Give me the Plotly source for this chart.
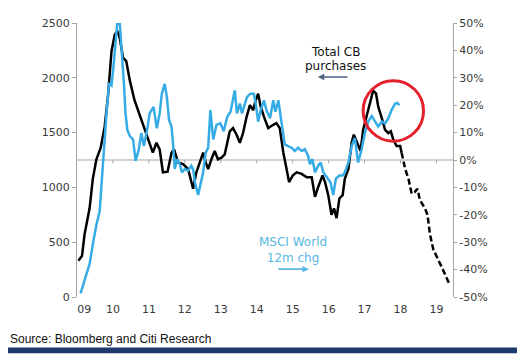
import plotly.graph_objects as go

# ---- data (decimal years) ----
cb_x = [2009.04, 2009.14, 2009.21, 2009.35, 2009.44, 2009.54, 2009.66, 2009.77, 2009.86, 2009.96,
        2010.05, 2010.12, 2010.19, 2010.28, 2010.37, 2010.47, 2010.60, 2010.79, 2010.97, 2011.11,
        2011.21, 2011.30, 2011.39, 2011.52, 2011.63, 2011.70, 2011.81, 2011.95, 2012.09, 2012.18,
        2012.23, 2012.32, 2012.42, 2012.51, 2012.58, 2012.65, 2012.74, 2012.83, 2012.92, 2013.02,
        2013.11, 2013.18, 2013.25, 2013.34, 2013.44, 2013.53, 2013.62, 2013.72, 2013.81, 2013.90,
        2013.97, 2014.04, 2014.11, 2014.20, 2014.32, 2014.46, 2014.55, 2014.64, 2014.74, 2014.83,
        2014.90, 2015.00, 2015.11, 2015.25, 2015.39, 2015.53, 2015.62, 2015.71, 2015.83, 2015.90,
        2015.99, 2016.08, 2016.15, 2016.22, 2016.30, 2016.39, 2016.45, 2016.55, 2016.64, 2016.70,
        2016.80, 2016.89, 2016.96, 2017.06, 2017.15, 2017.24, 2017.32, 2017.38, 2017.48, 2017.57,
        2017.66, 2017.73, 2017.80, 2017.89, 2017.99, 2018.03]
cb_values = [331, 376, 571, 809, 1078, 1257, 1362, 1556, 1825, 2243,
             2392, 2428, 2362, 2183, 2153, 1974, 1795, 1616, 1436, 1317,
             1407, 1347, 1138, 1144, 1317, 1347, 1228, 1212, 1168, 1048,
             988, 1138, 1228, 1317, 1228, 1168, 1257, 1332, 1257, 1272,
             1302, 1407, 1512, 1541, 1481, 1407, 1496, 1646, 1750, 1705,
             1795, 1855, 1736, 1646, 1541, 1571, 1586, 1541, 1317, 1168,
             1048, 1108, 1138, 1123, 1093, 1093, 914, 1004, 1108, 1048,
             929, 750, 809, 720, 899, 929, 1078, 1168, 1407, 1481,
             1407, 1332, 1526, 1646, 1765, 1884, 1855, 1736, 1631, 1526,
             1496, 1512, 1436, 1377, 1377, 1317]

cb_fcst_x = [2018.03, 2018.13, 2018.22, 2018.31, 2018.40, 2018.47, 2018.54, 2018.68, 2018.75,
             2018.82, 2018.91, 2019.05, 2019.19, 2019.35]
cb_fcst_values = [1317, 1168, 1078, 944, 959, 988, 884, 809, 750,
                  571, 436, 331, 242, 123]

msci_x = [2009.10, 2009.21, 2009.35, 2009.44, 2009.54, 2009.63, 2009.69, 2009.75, 2009.82, 2009.89,
          2009.96, 2010.02, 2010.08, 2010.12, 2010.19, 2010.23, 2010.30, 2010.35, 2010.40, 2010.47,
          2010.56, 2010.63, 2010.72, 2010.79, 2010.86, 2010.95, 2011.02, 2011.13, 2011.22, 2011.30,
          2011.36, 2011.44, 2011.50, 2011.56, 2011.63, 2011.67, 2011.72, 2011.78, 2011.86, 2011.92,
          2012.00, 2012.09, 2012.18, 2012.23, 2012.28, 2012.37, 2012.46, 2012.51, 2012.58, 2012.65,
          2012.71, 2012.79, 2012.88, 2012.99, 2013.08, 2013.18, 2013.27, 2013.33, 2013.39, 2013.45,
          2013.53, 2013.59, 2013.67, 2013.73, 2013.83, 2013.92, 2013.97, 2014.04, 2014.11, 2014.20,
          2014.27, 2014.37, 2014.46, 2014.52, 2014.60, 2014.69, 2014.78, 2014.87, 2014.97, 2015.06,
          2015.15, 2015.25, 2015.34, 2015.43, 2015.48, 2015.55, 2015.62, 2015.71, 2015.78, 2015.85,
          2015.94, 2016.05, 2016.13, 2016.20, 2016.30, 2016.39, 2016.45, 2016.55, 2016.64, 2016.73,
          2016.82, 2016.92, 2017.01, 2017.10, 2017.20, 2017.29, 2017.38, 2017.48, 2017.57, 2017.66,
          2017.75, 2017.85, 2017.91, 2017.97]
msci_pct = [-48.7, -43.9, -37.9, -30.8, -23.6, -18.8, -6.9, 5.1, 17.0, 27.8,
            27.2, 35.0, 45.7, 49.9, 49.9, 43.3, 29.0, 17.0, 11.0, 8.7,
            7.5, -0.3, 3.9, 9.9, 5.1, 11.0, 17.0, 19.4, 11.6, 17.0,
            24.2, 27.8, 23.0, 14.6, 12.2, 6.3, -3.3, 0.3, -1.5, -4.5,
            -3.3, -3.9, -2.1, -3.3, -8.1, -12.8, -8.1, -4.5, 2.7, 4.5,
            18.2, 7.5, 12.8, 13.4, 10.5, 15.8, 17.6, 21.8, 25.4, 17.0,
            20.6, 17.0, 20.0, 23.0, 24.2, 24.2, 20.6, 14.0, 18.2, 21.8,
            18.2, 15.2, 21.8, 17.6, 21.8, 13.4, 5.7, 5.1, 4.5, 3.3,
            4.5, 3.3, 3.9, 1.5, -1.5, 0.3, -4.5, -2.1, -0.9, -4.5,
            -6.3, -8.1, -12.8, -6.9, -5.7, -5.7, -4.5, -0.9, 5.1, 8.0,
            -0.9, 3.9, 9.9, 14.0, 16.0, 14.0, 12.2, 14.0, 13.4, 15.2,
            18.2, 20.6, 20.8, 20.0]

years = list(range(2009, 2020))
year_labels = ["09", "10", "11", "12", "13", "14", "15", "16", "17", "18", "19"]
left_ticks = [0, 500, 1000, 1500, 2000, 2500]
right_ticks = [-50, -40, -30, -20, -10, 0, 10, 20, 30, 40, 50]

BLUE = "#36ace6"
GREY = "#a6a6a6"
TXT = "#3a3a3a"
TICKFONT = dict(family="DejaVu Sans", size=11, color=TXT)
ANNFONT = dict(family="DejaVu Sans", size=12, color="#111111")
BLUEFONT = dict(family="DejaVu Sans", size=12, color="#5ab6e2")

fig = go.Figure()
fig.add_trace(go.Scatter(x=msci_x, y=msci_pct, yaxis="y2", mode="lines",
                         line=dict(color=BLUE, width=2.5), cliponaxis=False, showlegend=False))
fig.add_trace(go.Scatter(x=cb_x, y=cb_values, mode="lines",
                         line=dict(color="#000000", width=2.5), cliponaxis=False, showlegend=False))
fig.add_trace(go.Scatter(x=cb_fcst_x, y=cb_fcst_values, mode="lines",
                         line=dict(color="#000000", width=2.5, dash="6px,3px"), showlegend=False))

shapes = []
# zero line (0% on right axis == 1250 on left axis)
shapes.append(dict(type="line", xref="paper", x0=0, x1=1, yref="y2", y0=0, y1=0,
                   line=dict(color=GREY, width=1.2), layer="below"))
for yr in years[1:]:
    shapes.append(dict(type="line", xref="x", x0=yr, x1=yr, yref="y2", y0=0, y1=-1.2,
                       line=dict(color=GREY, width=1), layer="below"))
# red highlight circle
shapes.append(dict(type="circle", xref="x", yref="y", x0=2016.96, x1=2018.64, y0=1422, y1=1974,
                   line=dict(color="#e3202b", width=3)))
# bottom rule
shapes.append(dict(type="rect", xref="paper", yref="paper", x0=-0.21, x1=1.1755,
                   y0=-0.205, y1=-0.184, fillcolor="#1f3a6e", line=dict(width=0)))

annotations = [
    dict(x=2016.18, y=2240, xref="x", yref="y", text="Total CB", showarrow=False, font=ANNFONT),
    dict(x=2016.18, y=2108, xref="x", yref="y", text="purchases", showarrow=False, font=ANNFONT),
    dict(x=2015.70, y=2007, xref="x", yref="y", text="", showarrow=True, ax=31, ay=0,
         arrowhead=2, arrowsize=0.8, arrowwidth=1.6, arrowcolor="#4a6584"),
    dict(x=2015.0, y=433, xref="x", yref="y", text="MSCI World<br>12m chg", showarrow=False,
         font=BLUEFONT),
    dict(x=2015.45, y=254, xref="x", yref="y", text="", showarrow=True, ax=-32, ay=0,
         arrowhead=2, arrowsize=0.8, arrowwidth=1.6, arrowcolor="#5ab6e2"),
    dict(x=-0.1835, y=-0.152, xref="paper", yref="paper", xanchor="left", yanchor="middle",
         text="Source: Bloomberg and Citi Research", showarrow=False,
         font=dict(family="Liberation Sans, Arial", size=12, color="#111111")),
]

label_pos = [max(yr, 2009.2) for yr in years]

# the page body has an 8px default margin, so the figure is 8px smaller and margins shifted
fig.update_layout(
    width=517, height=353,
    margin=dict(l=69, r=72, t=9, b=64),
    paper_bgcolor="white", plot_bgcolor="white",
    xaxis=dict(range=[2009, 2019.46], tickvals=label_pos, ticktext=year_labels,
               showgrid=False, zeroline=False, showline=False, ticks="",
               tickfont=TICKFONT, ticklabelstandoff=4),
    yaxis=dict(range=[0, 2500], tickvals=left_ticks, showgrid=False, zeroline=False,
               showline=True, linecolor=GREY, linewidth=1, ticks="outside", ticklen=4,
               tickcolor=GREY, tickfont=TICKFONT),
    yaxis2=dict(range=[-50, 50], tickvals=right_ticks,
                ticktext=[f"{v}%" for v in right_ticks], overlaying="y", side="right",
                showgrid=False, zeroline=False, showline=True, linecolor=GREY, linewidth=1,
                ticks="outside", ticklen=3, tickcolor=GREY, tickfont=TICKFONT),
    shapes=shapes, annotations=annotations,
)

fig.write_html("out.html")
